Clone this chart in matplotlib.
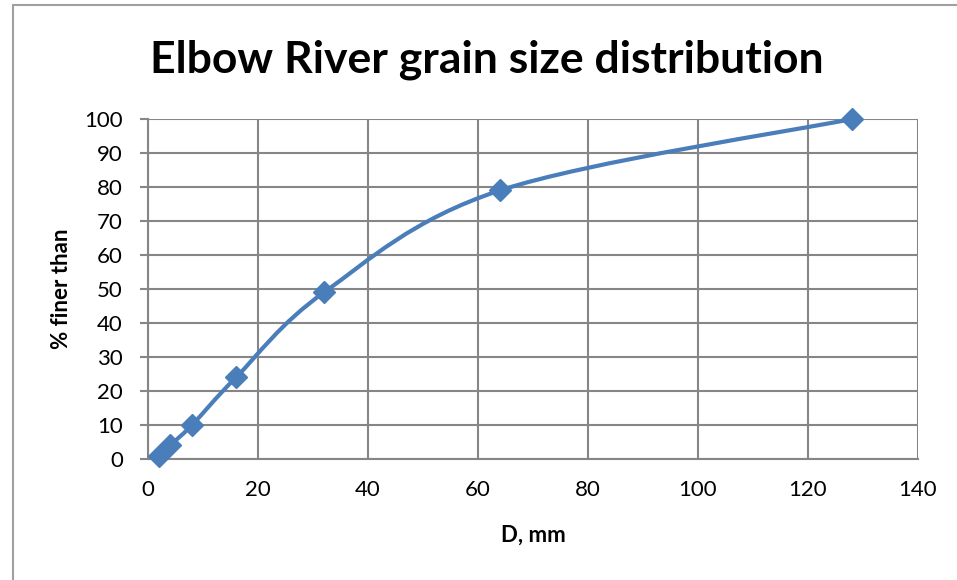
import matplotlib.pyplot as plt
from matplotlib.path import Path
from matplotlib.patches import PathPatch, Rectangle

plt.rcParams['font.family'] = ['Lato', 'DejaVu Sans']

# grain size (mm) and percent finer
diam = [2, 4, 8, 16, 32, 64, 128]
finer = [1, 4, 10, 24, 49, 79, 100]

xticks = [0, 20, 40, 60, 80, 100, 120, 140]
yticks = [0, 10, 20, 30, 40, 50, 60, 70, 80, 90, 100]

blue = '#4a7ebb'
grid = '#868686'

fig = plt.figure(figsize=(9.57, 5.8), dpi=100)
ax = fig.add_axes([148 / 957, 1 - 459 / 580, 770 / 957, 340 / 580])

# outer chart border
fig.patches.append(Rectangle((13 / 957, -0.05), 1.0, 1 - 5 / 580 + 0.05,
                             transform=fig.transFigure, fill=False,
                             edgecolor='#a0a0a0', linewidth=1.5))

# smoothed line (Excel style bezier through the points)
pts = list(zip(diam, finer))
ext = [pts[0]] + pts + [pts[-1]]
verts = [pts[0]]
codes = [Path.MOVETO]
for i in range(1, len(ext) - 2):
    p0, p1, p2, p3 = ext[i - 1], ext[i], ext[i + 1], ext[i + 2]
    c1 = (p1[0] + (p2[0] - p0[0]) / 6, p1[1] + (p2[1] - p0[1]) / 6)
    c2 = (p2[0] - (p3[0] - p1[0]) / 6, p2[1] - (p3[1] - p1[1]) / 6)
    verts += [c1, c2, p2]
    codes += [Path.CURVE4] * 3
ax.add_patch(PathPatch(Path(verts, codes), facecolor='none', edgecolor=blue,
                       linewidth=3, capstyle='round', zorder=3))
ax.plot(diam, finer, linestyle='none', marker='D', markersize=11.5,
        color=blue, zorder=4, clip_on=False)

ax.set_xlim(0, 140)
ax.set_ylim(0, 100)
ax.set_xticks(xticks)
ax.set_yticks(yticks)
ax.grid(True, color=grid, linewidth=1.5)
ax.set_axisbelow(True)
for s in ['top', 'right']:
    ax.spines[s].set_visible(False)
for s in ['left', 'bottom']:
    ax.spines[s].set_color(grid)
    ax.spines[s].set_linewidth(1.5)
ax.tick_params(axis='y', colors=grid, labelcolor='black', labelsize=16,
               length=6, width=1.5, pad=12)
ax.tick_params(axis='x', colors=grid, labelcolor='black', labelsize=16,
               length=0, width=1.5, pad=15)

fig.text(533 / 957, 1 - 535 / 580, 'D, mm', ha='center', va='center',
         fontsize=16, fontweight='bold')
fig.text(62 / 957, 1 - 289 / 580, '% finer than', ha='center', va='center',
         rotation=90, fontsize=16, fontweight='bold')
fig.text(487 / 957, 1 - 73 / 580, 'Elbow River grain size distribution',
         ha='center', va='baseline', fontsize=32, fontweight='bold')

fig.savefig('out.png', dpi=100)
